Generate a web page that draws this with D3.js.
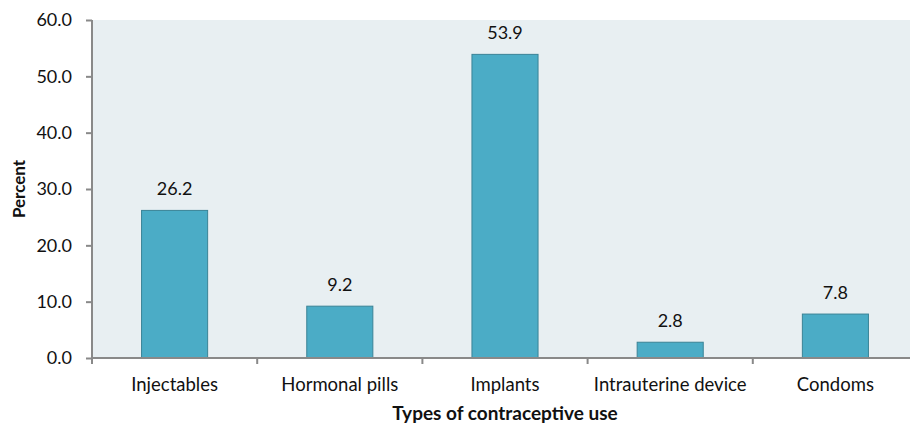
<!DOCTYPE html>
<html lang="en">
	<head>
		<meta charset="utf-8">
		<title>Types of contraceptive use</title>
		<script type="text/javascript" src="https://d3js.org/d3.v7.min.js"></script>
		<style type="text/css">
			body { margin: 0; background: #fff; }
			text { font-family: Lato, "Open Sans", sans-serif; fill: #111; }
		</style>
	</head>
	<body>
		<script type="text/javascript">

			//Data
			var categories = ["Injectables", "Hormonal pills", "Implants", "Intrauterine device", "Condoms"];
			var percents = [26.2, 9.2, 53.9, 2.8, 7.8];
			var yTicks = [0, 10, 20, 30, 40, 50, 60];

			//Width and height
			var w = 910;
			var h = 426;
			var padL = 92, padT = 20, plotW = 826, plotH = 338;

			var svg = d3.select("body")
						.append("svg")
						.attr("width", w)
						.attr("height", h);

			var x = d3.scaleBand()
			          .domain(categories)
			          .range([padL, padL + plotW])
			          .paddingInner(0.6)
			          .paddingOuter(0.3);

			var y = d3.scaleLinear()
			          .domain([0, 60])
			          .range([padT + plotH, padT]);

			//plot background
			svg.append("rect")
			   .attr("x", padL)
			   .attr("y", padT)
			   .attr("width", plotW)
			   .attr("height", plotH)
			   .style("fill", "#e8eff2");

			//bars
			svg.selectAll("rect.bar")
			   .data(percents)
			   .enter()
			   .append("rect")
			   .attr("class", "bar")
			   .attr("x", function(d, i) { return x(categories[i]); })
			   .attr("y", function(d) { return y(d); })
			   .attr("width", x.bandwidth())
			   .attr("height", function(d) { return y(0) - y(d); })
			   .style("fill", "#4bacc6")
			   .style("stroke", "#3a8396")
			   .style("stroke-width", 1);

			//value labels
			svg.selectAll("text.val")
			   .data(percents)
			   .enter()
			   .append("text")
			   .attr("class", "val")
			   .attr("x", function(d, i) { return x(categories[i]) + x.bandwidth() / 2; })
			   .attr("y", function(d) { return y(d) - 15; })
			   .attr("text-anchor", "middle")
			   .style("font-size", "18px")
			   .text(function(d) { return d.toFixed(1); });

			//y axis
			var yAxis = d3.axisLeft(y)
			              .tickValues(yTicks)
			              .tickSize(6)
			              .tickPadding(14)
			              .tickFormat(d3.format(".1f"));
			var gy = svg.append("g")
			            .attr("transform", "translate(" + padL + ",0)")
			            .call(yAxis);
			gy.select(".domain").attr("d", "M0," + padT + "V" + (padT + plotH));

			//x axis, ticks between categories
			var xAxis = d3.axisBottom(x).tickSize(0).tickPadding(20);
			var gx = svg.append("g")
			            .attr("transform", "translate(0," + (padT + plotH) + ")")
			            .call(xAxis);
			gx.select(".domain").attr("d", "M" + padL + ",0H" + (padL + plotW));
			gx.selectAll("line.sep")
			  .data(d3.range(categories.length + 1))
			  .enter()
			  .append("line")
			  .attr("class", "sep")
			  .attr("x1", function(i) { return padL + i * plotW / categories.length; })
			  .attr("x2", function(i) { return padL + i * plotW / categories.length; })
			  .attr("y1", 0)
			  .attr("y2", 6);

			svg.selectAll(".domain, .tick line, line.sep")
			   .style("stroke", "#898989")
			   .style("stroke-width", 2);
			gy.selectAll(".tick text")
			  .style("font-family", "Lato, 'Open Sans', sans-serif")
			  .style("font-size", "18px")
			  .style("fill", "#111");
			gx.selectAll(".tick text")
			  .style("font-family", "Lato, 'Open Sans', sans-serif")
			  .style("font-size", "18.5px")
			  .style("fill", "#111");

			//axis titles
			svg.append("text")
			   .attr("transform", "translate(25," + (padT + plotH / 2) + ") rotate(-90)")
			   .attr("text-anchor", "middle")
			   .style("font-size", "17px")
			   .style("font-weight", "bold")
			   .text("Percent");

			svg.append("text")
			   .attr("x", 505)
			   .attr("y", 420)
			   .attr("text-anchor", "middle")
			   .style("font-size", "19px")
			   .style("font-weight", "bold")
			   .text("Types of contraceptive use");

		</script>
	</body>
</html>
